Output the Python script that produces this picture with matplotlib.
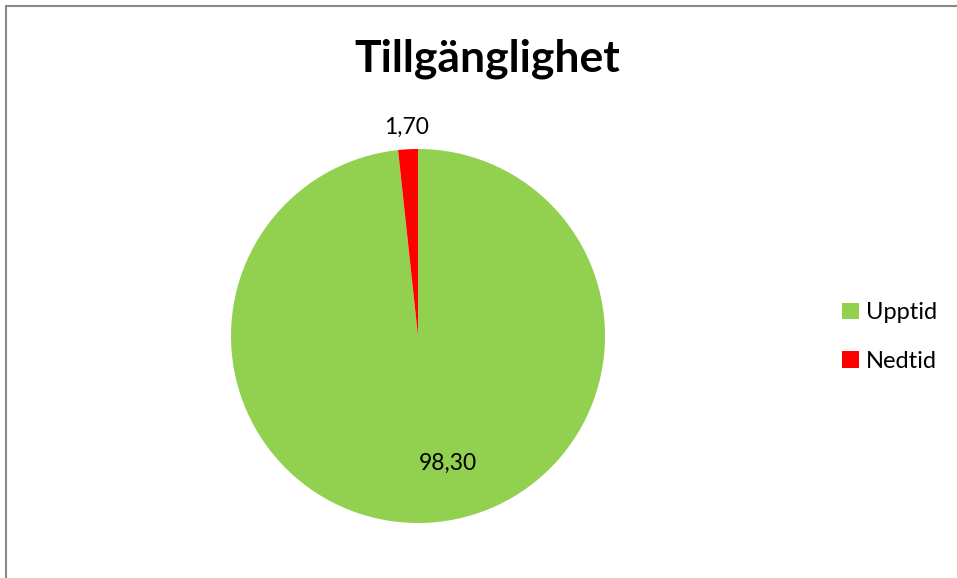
import matplotlib.pyplot as plt
import numpy as np

plt.rcParams["font.family"] = ["Lato", "DejaVu Sans"]

# Availability data
categories = ["Upptid", "Nedtid"]
values = [98.30, 1.70]
colors = ["#92D050", "#FF0000"]

fig = plt.figure(figsize=(9.57, 5.78), dpi=100)

# Gray chart border (Excel style)
fig.patches.append(plt.Rectangle((6 / 957, -0.05), 1.1, (572 / 578) + 0.05,
                                 transform=fig.transFigure, fill=False,
                                 edgecolor="#888888", linewidth=1.5))

ax = fig.add_axes([(418 - 187) / 957, 55 / 578, 374 / 957, 374 / 578])
wedges, _ = ax.pie(values, colors=colors, startangle=90, counterclock=False,
                   radius=1.0, wedgeprops=dict(linewidth=0))
ax.set_xlim(-1, 1)
ax.set_ylim(-1, 1)
ax.set_aspect("equal")

# Data labels
fmt = lambda v: f"{v:.2f}".replace(".", ",")
label_pos = [(0.16, -0.68), None]
for i, (w, v) in enumerate(zip(wedges, values)):
    if label_pos[i] is not None:
        x, y = label_pos[i]
    else:
        ang = np.deg2rad((w.theta1 + w.theta2) / 2)
        x, y = 1.12 * np.cos(ang), 1.12 * np.sin(ang)
    ax.text(x, y, fmt(v), ha="center", va="center", fontsize=16.5, color="black")

fig.text(487 / 957, 1 - 59 / 578, "Tillgänglighet", ha="center", va="center",
         fontsize=32, fontweight="bold")

leg = fig.legend(wedges, categories, loc="center left",
                 bbox_to_anchor=(821 / 957, 1 - 337 / 578), frameon=False,
                 fontsize=17, handlelength=0.7, handleheight=0.7,
                 handletextpad=0.3, labelspacing=1.15)

fig.savefig("out.png", dpi=100)
